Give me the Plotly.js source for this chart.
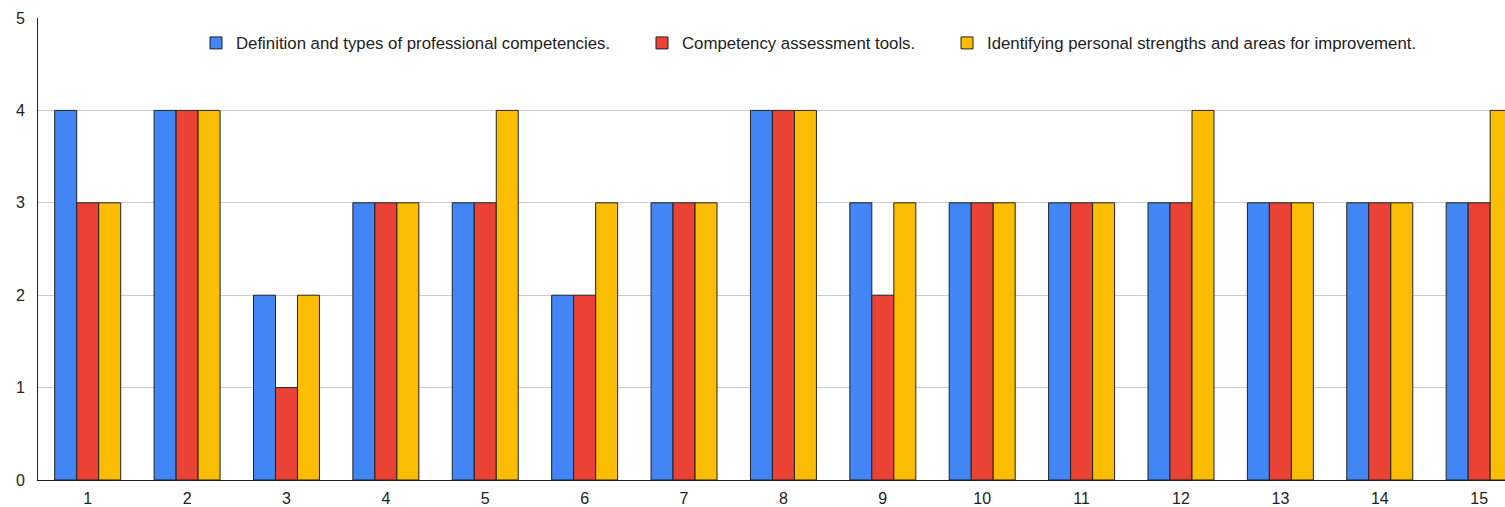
<!DOCTYPE html>
<html>
<head>
<meta charset="utf-8">
<script src="https://cdn.plot.ly/plotly-3.0.1.min.js"></script>
<style>html,body{margin:0;padding:0;background:#fff;}#chart{width:1505px;height:507px;}</style>
</head>
<body>
<div id="chart"></div>
<script>
const categories = [1,2,3,4,5,6,7,8,9,10,11,12,13,14,15];
const seriesNames = [
  "Definition and types of professional competencies.",
  "Competency assessment tools.",
  "Identifying personal strengths and areas for improvement."
];
const definitionTypes = [4,4,2,3,3,2,3,4,3,3,3,3,3,3,3];
const assessmentTools = [3,4,1,3,3,2,3,4,2,3,3,3,3,3,3];
const personalStrengths = [3,4,2,3,4,3,3,4,3,3,3,4,3,3,4];
const yTicks = [0,1,2,3,4,5];

const colors = ["#4285F4", "#EA4335", "#FBBC04"];
const values = [definitionTypes, assessmentTools, personalStrengths];
const legendIds = ["legend", "legend2", "legend3"];

const traces = values.map((v, i) => ({
  type: "bar",
  x: categories,
  y: v,
  name: seriesNames[i],
  legend: legendIds[i],
  marker: {color: colors[i], line: {color: "#222", width: 1}},
  hoverinfo: "x+y+name"
}));

const plotLeft = 38, plotW = 1467;
function px2paper(px){ return (px - plotLeft) / plotW; }
const legendFont = {family: "Liberation Sans, Arial, sans-serif", size: 16.8, color: "#222"};
function mkLegend(textStartPx){
  return {
    orientation: "h", x: px2paper(textStartPx - 40), xanchor: "left",
    y: (480 - 43) / 462, yanchor: "middle",
    bgcolor: "rgba(0,0,0,0)", borderwidth: 0, font: legendFont
  };
}

const layout = {
  width: 1505, height: 507,
  margin: {l: 38, r: 0, t: 18, b: 27, pad: 0},
  paper_bgcolor: "#fff", plot_bgcolor: "#fff",
  barmode: "group", bargap: 0.336, bargroupgap: 0,
  font: {family: "Liberation Sans, Arial, sans-serif", size: 16, color: "#222"},
  showlegend: true,
  legend: mkLegend(236),
  legend2: mkLegend(682),
  legend3: mkLegend(987),
  xaxis: {
    range: [0.5, 15.26], tickmode: "array", tickvals: categories, ticktext: categories.map(String),
    showgrid: false, zeroline: false, showline: true, linecolor: "#222", linewidth: 1,
    ticks: "outside", ticklen: 4, tickcolor: "rgba(0,0,0,0)",
    tickfont: {size: 16, color: "#222"}, fixedrange: true
  },
  yaxis: {
    range: [0, 5], tickmode: "array", tickvals: yTicks, ticktext: yTicks.map(String),
    showgrid: true, gridcolor: "#cccccc", gridwidth: 1, zeroline: false,
    showline: true, linecolor: "#222", linewidth: 1,
    ticks: "outside", ticklen: 9, tickcolor: "rgba(0,0,0,0)",
    tickfont: {size: 16, color: "#222"}, fixedrange: true
  }
};

Plotly.newPlot("chart", traces, layout, {displayModeBar: false, responsive: false});
</script>
</body>
</html>
